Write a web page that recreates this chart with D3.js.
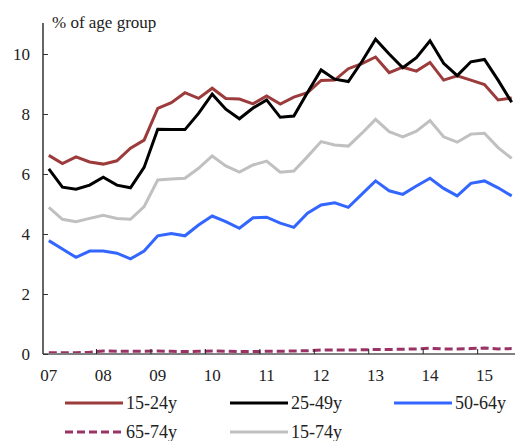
<!DOCTYPE html>
<html><head><meta charset="utf-8">
<script src="https://cdn.jsdelivr.net/npm/d3@7"></script>
<style>body{margin:0;background:#fff}svg{display:block}text{font-family:"Liberation Serif","Times New Roman",serif;fill:#222}</style>
</head><body><div id="c"></div>
<script>
const quarters = [];
for (let y = 2007; y <= 2015; y++) for (let q = 1; q <= 4; q++) if (!(y === 2015 && q === 4)) quarters.push(y + "Q" + q);
const yearLabels = ["07","08","09","10","11","12","13","14","15"];
const yTicks = [0,2,4,6,8,10];
const s15_24 = [6.62,6.35,6.57,6.40,6.33,6.44,6.86,7.13,8.19,8.38,8.71,8.52,8.86,8.52,8.50,8.34,8.60,8.33,8.56,8.71,9.12,9.13,9.51,9.68,9.90,9.38,9.56,9.43,9.72,9.13,9.27,9.13,8.98,8.47,8.53];
const s25_49 = [6.17,5.56,5.49,5.63,5.89,5.63,5.54,6.22,7.49,7.48,7.48,8.02,8.66,8.16,7.84,8.20,8.47,7.89,7.93,8.72,9.47,9.16,9.08,9.75,10.49,10.00,9.54,9.88,10.44,9.69,9.28,9.74,9.82,9.13,8.39];
const s50_64 = [3.78,3.50,3.22,3.43,3.43,3.36,3.17,3.43,3.94,4.02,3.94,4.30,4.60,4.41,4.19,4.54,4.56,4.36,4.22,4.69,4.97,5.04,4.89,5.33,5.77,5.44,5.32,5.60,5.86,5.52,5.27,5.69,5.77,5.54,5.27];
const s65_74 = [0.04,0.04,0.04,0.06,0.10,0.09,0.09,0.09,0.10,0.09,0.08,0.09,0.10,0.09,0.08,0.08,0.09,0.09,0.10,0.11,0.13,0.13,0.13,0.14,0.15,0.15,0.16,0.17,0.19,0.17,0.17,0.18,0.20,0.17,0.18];
const s15_74 = [4.89,4.49,4.41,4.52,4.62,4.52,4.49,4.91,5.80,5.83,5.86,6.19,6.60,6.27,6.06,6.30,6.43,6.06,6.10,6.58,7.08,6.97,6.93,7.36,7.82,7.41,7.24,7.43,7.78,7.24,7.06,7.33,7.36,6.88,6.52];
const seriesNames = ["15-24y","25-49y","50-64y","65-74y","15-74y"];
const seriesColors = ["#9c3b3b","#000000","#3366ff","#993366","#c0c0c0"];
const seriesData = [s15_24, s25_49, s50_64, s65_74, s15_74];
const drawOrder = [4,2,3,0,1];

const W = 515, H = 441;
const svg = d3.select("#c").append("svg").attr("width", W).attr("height", H);
const x = d3.scaleBand().domain(quarters).range([42, 518.5]).padding(0);
const y = d3.scaleLinear().domain([0, 10]).range([354, 54]);
const cx = q => x(q) + x.bandwidth() / 2;

const plot = svg.append("g");
// lines
const line = d3.line().x((d, i) => cx(quarters[i])).y(d => y(d));
drawOrder.forEach(k => {
  plot.append("path").datum(seriesData[k]).attr("d", line)
    .attr("fill", "none").attr("stroke", seriesColors[k]).attr("stroke-width", 3)
    .attr("stroke-linejoin", "miter")
    .attr("stroke-dasharray", k === 3 ? "8,4" : null);
});

// x axis line
svg.append("line").attr("x1", 43).attr("x2", 515).attr("y1", y(0)).attr("y2", y(0))
  .attr("stroke", "#808080").attr("stroke-width", 2);
// x ticks at year starts
const yearStarts = quarters.filter(q => q.endsWith("Q1"));
yearStarts.slice(1).forEach(q => {
  svg.append("line").attr("x1", x(q)).attr("x2", x(q)).attr("y1", y(0) - 5).attr("y2", y(0))
    .attr("stroke", "#222").attr("stroke-width", 1);
});
yearStarts.forEach((q, i) => {
  svg.append("text").attr("x", cx(q)).attr("y", 381).attr("text-anchor", "middle")
    .attr("font-size", 17).text(yearLabels[i]);
});

// y axis
const yAxis = svg.append("g").attr("transform", "translate(43,0)")
  .call(d3.axisRight(y).tickValues(yTicks).tickSize(5).tickFormat(""));
yAxis.select(".domain").attr("d", "M0,23V354").attr("stroke", "#333").attr("stroke-width", 1.5);
yAxis.selectAll(".tick line").attr("stroke", "#333");
yTicks.forEach(v => {
  svg.append("text").attr("x", 30).attr("y", y(v) + 6).attr("text-anchor", "end")
    .attr("font-size", 17).text(v);
});
svg.append("text").attr("x", 52).attr("y", 28).attr("font-size", 17).text("% of age group");

// legend
const legPos = [[65,403],[230,403],[394,403],[65,432],[230,432]];
seriesNames.forEach((n, k) => {
  const [lx, ly] = legPos[k];
  svg.append("line").attr("x1", lx).attr("x2", lx + 58).attr("y1", ly).attr("y2", ly)
    .attr("stroke", seriesColors[k]).attr("stroke-width", 3)
    .attr("stroke-dasharray", k === 3 ? "8,4" : null);
  svg.append("text").attr("x", lx + 61).attr("y", ly + 6).attr("font-size", 18).text(n);
});
</script></body></html>
